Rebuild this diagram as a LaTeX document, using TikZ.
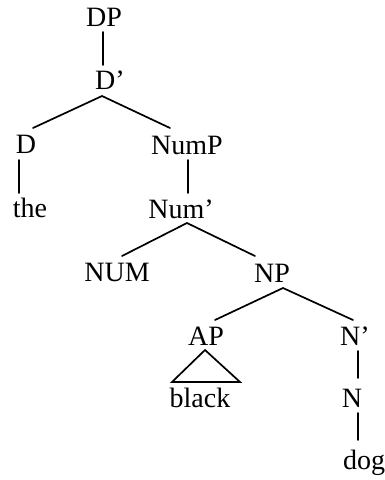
\documentclass[tikz,border=0pt]{standalone}
\usepackage{fontspec}
\setmainfont{Liberation Serif}
\begin{document}
\begin{tikzpicture}[x=1pt,y=-1pt,
  lbl/.style={anchor=base,inner sep=0pt,font=\fontsize{28}{32}\selectfont},
  branch/.style={line width=1.7pt,line cap=round}]
\useasboundingbox[fill=white] (0,0) rectangle (385,480);

% category labels and words, placed on their baselines
\node[lbl] (dp)    at (104,26)  {DP};
\node[lbl] (dbar)  at (110,89)  {D’};
\node[lbl] (d)     at (26,153)  {D};
\node[lbl] (the)   at (30,217)  {the};
\node[lbl] (nump)  at (187,154) {NumP};
\node[lbl] (numb)  at (181,218) {Num’};
\node[lbl] (num)   at (117,281) {NUM};
\node[lbl] (np)    at (272,282) {NP};
\node[lbl] (ap)    at (206,345) {AP};
\node[lbl] (nbar)  at (355,345) {N’};
\node[lbl] (black) at (200,407) {black};
\node[lbl] (n)     at (352,407) {N};
\node[lbl] (dog)   at (364,469) {dog};

% unary branches
\draw[branch] ([shift={(-1,6)}]dp.base)   -- ([shift={(-7,-24)}]dbar.base);
\draw[branch] ([shift={(-7,7)}]d.base)    -- ([shift={(-11,-24)}]the.base);
\draw[branch] ([shift={(1,6)}]nump.base)  -- ([shift={(7,-25)}]numb.base);
\draw[branch] ([shift={(3,6)}]nbar.base)  -- ([shift={(6,-29)}]n.base);
\draw[branch] ([shift={(6,6)}]n.base)     -- ([shift={(-6,-29)}]dog.base);

% binary branches
\draw[branch] ([shift={(7,-25)}]d.base) -- ([shift={(-8,7)}]dbar.base)
  -- ([shift={(-17,-26)}]nump.base);
\draw[branch] ([shift={(5,-25)}]num.base) -- ([shift={(6,5)}]numb.base)
  -- ([shift={(-17,-26)}]np.base);
\draw[branch] ([shift={(9,-25)}]ap.base) -- ([shift={(11,6)}]np.base)
  -- ([shift={(-2,-25)}]nbar.base);

% roof over the adjective phrase
\draw[branch,line join=miter] ([shift={(-1,5)}]ap.base)
  -- ([shift={(-28,-25)}]black.base) -- ([shift={(40,-25)}]black.base) -- cycle;
\end{tikzpicture}
\end{document}
